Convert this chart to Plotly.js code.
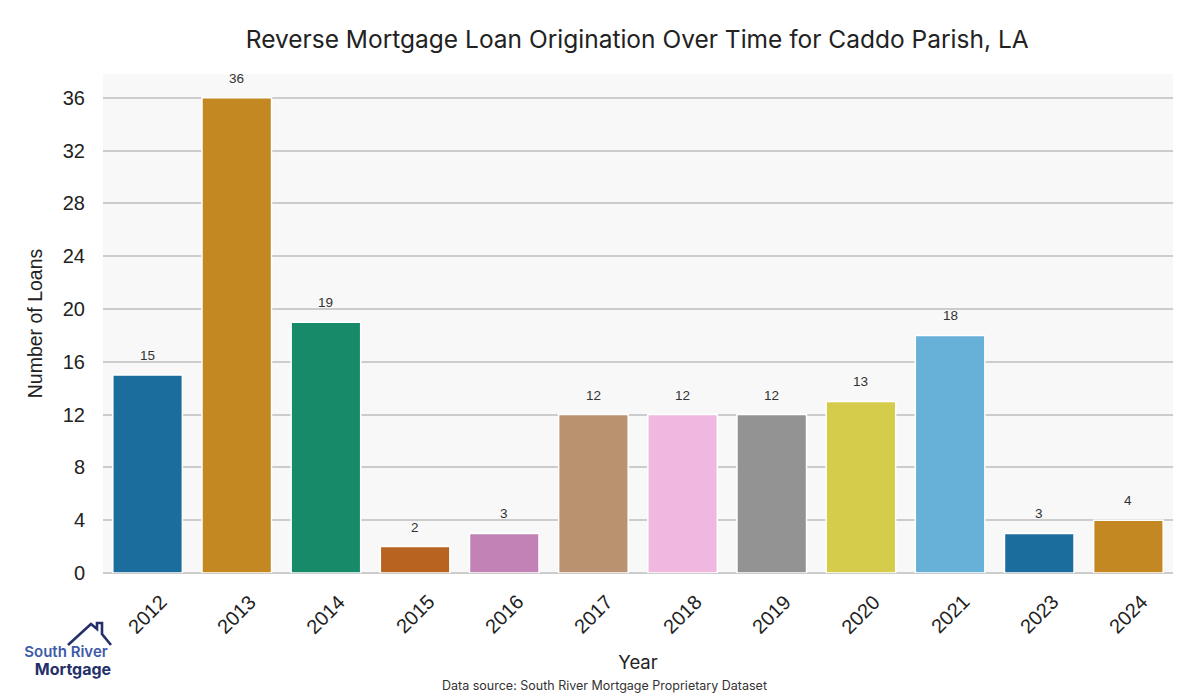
<!DOCTYPE html>
<html>
<head>
<meta charset="utf-8">
<script src="https://cdn.plot.ly/plotly-3.0.1.min.js"></script>
<style>
  html, body { margin: 0; padding: 0; background: #ffffff; }
  #wrap { position: relative; width: 1200px; height: 700px; }
  #chart { width: 1200px; height: 700px; }
  #logo { position: absolute; left: 0; top: 600px; width: 140px; height: 90px; pointer-events: none; }
</style>
</head>
<body>
<div id="wrap">
  <div id="chart"></div>
  <svg id="logo" viewBox="0 0 140 90" xmlns="http://www.w3.org/2000/svg">
    <path d="M68 45 L91 24 L97 29 L97 23 L102 23 L102 34 L111 45" fill="none" stroke="#25306a" stroke-width="2.6" stroke-linejoin="miter"/>
    <text x="66" y="57" text-anchor="middle" font-family="Inter, 'Noto Sans', sans-serif" font-size="15" font-weight="600" fill="#3f5aa8">South River</text>
    <text x="73" y="75" text-anchor="middle" font-family="Inter, 'Noto Sans', sans-serif" font-size="16" font-weight="700" fill="#25306a">Mortgage</text>
  </svg>
</div>
<script>
const years = ['2012','2013','2014','2015','2016','2017','2018','2019','2020','2021','2023','2024'];
const loans = [15, 36, 19, 2, 3, 12, 12, 12, 13, 18, 3, 4];
const barColors = ['#1a6d9d','#c38822','#178b69','#b8631f','#c282b6','#bb9270','#f0b8e0','#939393','#d6cc4b','#67b0d8','#1a6d9d','#c38822'];
const yTicks = [0, 4, 8, 12, 16, 20, 24, 28, 32, 36];

const xPos = years.map((_, i) => i);

const trace = {
  type: 'bar',
  x: xPos,
  y: loans,
  width: 0.78,
  marker: { color: barColors, line: { color: '#ffffff', width: 1.5 } },
  text: years,
  hovertemplate: '%{text}: %{y}<extra></extra>',
  textposition: 'none'
};

const annotations = xPos.map((xi, i) => ({
  x: xi, y: loans[i], xref: 'x', yref: 'y',
  text: String(loans[i]), showarrow: false,
  yanchor: 'bottom', yshift: 10,
  font: { family: 'Liberation Sans, Arial, sans-serif', size: 13.5, color: '#333333' }
}));

// rotated category labels, centred under each bar
xPos.forEach((xi, i) => {
  annotations.push({
    x: xi, xref: 'x', y: 0, yref: 'paper',
    yanchor: 'middle', xanchor: 'center', yshift: -41,
    text: years[i], textangle: -45, showarrow: false,
    font: { family: 'Liberation Sans, Arial, sans-serif', size: 20, color: '#222222' }
  });
});

annotations.push({
  xref: 'paper', yref: 'paper', x: 0.469, y: -0.225, xanchor: 'center', yanchor: 'middle',
  text: 'Data source: South River Mortgage Proprietary Dataset', showarrow: false,
  font: { family: 'Inter, sans-serif', size: 12.5, color: '#333333' }
});

const layout = {
  width: 1200, height: 700,
  margin: { l: 103, r: 27, t: 74, b: 127 },
  paper_bgcolor: '#ffffff',
  plot_bgcolor: '#f8f8f8',
  title: {
    text: 'Reverse Mortgage Loan Origination Over Time for Caddo Parish, LA',
    x: 0.531, xanchor: 'center', y: 0.944, yanchor: 'middle',
    font: { family: 'Inter, sans-serif', size: 24.5, color: '#222222' }
  },
  xaxis: {
    type: 'linear',
    range: [-0.5, years.length - 0.5],
    tickvals: xPos,
    showticklabels: false,
    showgrid: false,
    showline: false,
    zeroline: false,
    ticks: '',
    title: { text: 'Year', standoff: 83, font: { family: 'Inter, sans-serif', size: 18.5, color: '#222222' } }
  },
  yaxis: {
    range: [0, 37.8],
    tickvals: yTicks,
    ticktext: yTicks.map(String),
    tickfont: { family: 'Liberation Sans, Arial, sans-serif', size: 20, color: '#222222' },
    ticklabelstandoff: 17,
    gridcolor: '#cccccc',
    gridwidth: 2,
    zeroline: true,
    zerolinecolor: '#cccccc',
    zerolinewidth: 2,
    showline: false,
    ticks: '',
    title: { text: 'Number of Loans', standoff: 14, font: { family: 'Liberation Sans, Arial, sans-serif', size: 19.5, color: '#222222' } }
  },
  annotations: annotations,
  showlegend: false
};

Plotly.newPlot('chart', [trace], layout, { displayModeBar: false });
</script>
</body>
</html>
